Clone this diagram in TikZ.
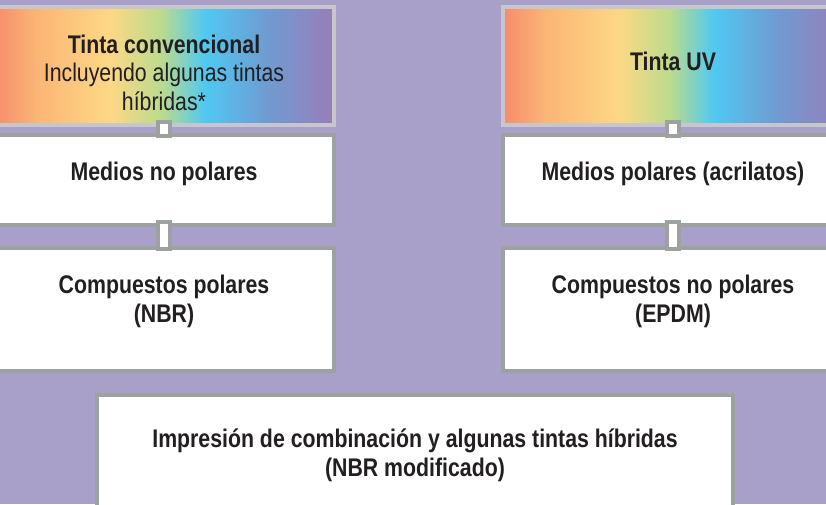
\documentclass[tikz,border=0pt]{standalone}
\usepackage{fontspec}
\setmainfont{Liberation Sans}[FakeStretch=0.835]
\usetikzlibrary{calc}
\definecolor{bg}{HTML}{A8A0C8}
\definecolor{edge}{HTML}{9DA19F}
\definecolor{paleedge}{HTML}{C7C6CC}
\definecolor{ink}{HTML}{231F20}
\definecolor{rbsalmon}{HTML}{F68B6C}
\definecolor{rborange}{HTML}{FBB475}
\definecolor{rbyellow}{HTML}{FDD885}
\definecolor{rbgreen}{HTML}{BCDB8D}
\definecolor{rbcyan}{HTML}{4FC9F2}
\definecolor{rbblue}{HTML}{6E9CD2}
\definecolor{rbpurple}{HTML}{997DB8}
\pgfdeclarehorizontalshading{rainbow}{100bp}{color(0bp)=(rbsalmon); color(25bp)=(rbsalmon);
  color(31bp)=(rborange); color(42bp)=(rbyellow); color(49.5bp)=(rbgreen);
  color(56bp)=(rbcyan); color(65bp)=(rbblue); color(75bp)=(rbpurple); color(100bp)=(rbpurple)}

\begin{document}
\begin{tikzpicture}[x=1pt,y=-1pt,
  box/.style={draw=edge,line width=4pt,inner sep=0pt,minimum width=340pt},
  whitebox/.style={box,fill=white},
  inkbox/.style={box,draw=paleedge,shade,shading=rainbow,minimum height=118pt},
  txt/.style={font=\fontsize{25.5}{28.5}\selectfont,text=ink,align=center,inner sep=0pt,anchor=north},
  boldtxt/.style={txt,font=\fontsize{25.5}{28.5}\selectfont\bfseries},
  link/.style={draw=edge,line width=4pt,fill=white}]
  \fill[bg] (0,0) rectangle (826,504);
  \useasboundingbox (0,0) rectangle (826,504);
  \clip (0,0) rectangle (826,504);
  % ink type boxes
  \node[inkbox] (conv) at (164,66) {};
  \node[inkbox] (uv) at (673,66) {};
  % media and compounds
  \node[whitebox,minimum height=90pt] (nopol) at (164,180) {};
  \node[whitebox,minimum height=123pt] (polc) at (164,309.5) {};
  \node[whitebox,minimum height=90pt] (pol) at (673,180) {};
  \node[whitebox,minimum height=123pt] (nopolc) at (673,309.5) {};
  \node[whitebox,minimum width=636pt,minimum height=135pt] (mix) at (415,462.5) {};
  \foreach \a/\b in {conv/nopol,nopol/polc,uv/pol,pol/nopolc}
    {\draw[link] ($(\a.south)+(-6,-5)$) rectangle ($(\b.north)+(6,3)$);}
  % texts
  \node[txt] (convtxt) at ($(conv.north)+(0,29.5)$) {{\bfseries Tinta convencional}\\Incluyendo algunas tintas\\híbridas*};
  \node[boldtxt] (uvtxt) at ($(uv.north)+(0,47)$) {Tinta UV};
  \node[boldtxt] (nopoltxt) at ($(nopol.north)+(0,29)$) {Medios no polares};
  \node[boldtxt] (poltxt) at ($(pol.north)+(0,29)$) {Medios polares (acrilatos)};
  \node[boldtxt] (polctxt) at ($(polc.north)+(0,29)$) {Compuestos polares\\(NBR)};
  \node[boldtxt] (nopolctxt) at ($(nopolc.north)+(0,29)$) {Compuestos no polares\\(EPDM)};
  \node[boldtxt] (mixtxt) at ($(mix.north)+(0,36)$) {Impresión de combinación y algunas tintas híbridas\\(NBR modificado)};
\end{tikzpicture}
\end{document}
